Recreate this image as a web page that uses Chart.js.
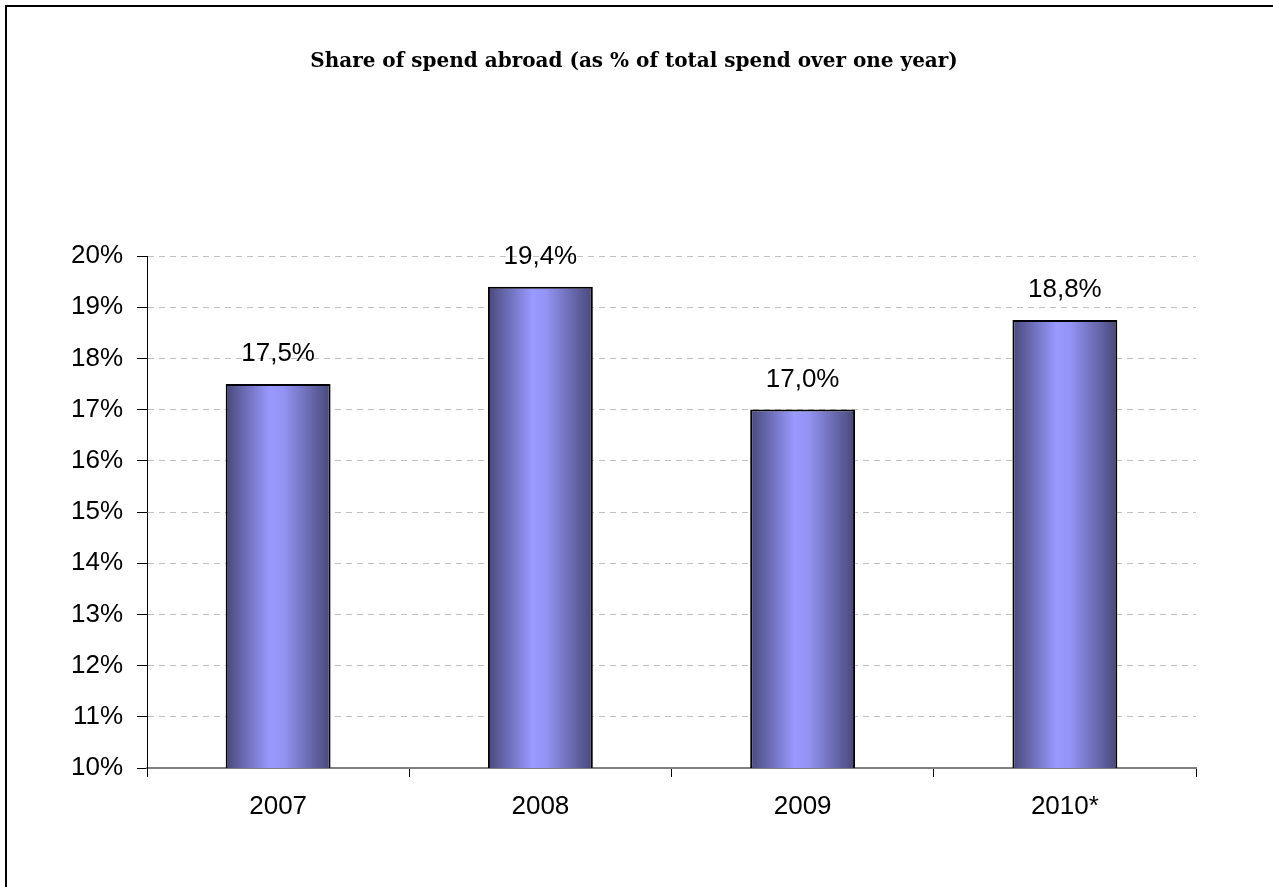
<!DOCTYPE html>
<html>
<head>
<meta charset="utf-8">
<script src="https://cdn.jsdelivr.net/npm/chart.js@4"></script>
<style>
    html, body { margin: 0; padding: 0; background: #fff; overflow: hidden; }
    #wrap { position: relative; width: 1273px; height: 887px; overflow: hidden; }
    #frame { position: absolute; left: 5px; top: 5px; width: 2000px; height: 2000px;
             border-left: 2px solid #000; border-top: 2px solid #000; pointer-events: none; }
</style>
</head>
<body>
<div id="wrap">
    <canvas id="spend-chart" width="1273" height="887"></canvas>
    <div id="frame"></div>
</div>
<script>
// Données du graphique
const chartTitle = "Share of spend abroad (as % of total spend over one year)";
const years = ["2007", "2008", "2009", "2010*"];
const shareAbroad = [17.5, 19.4, 17.0, 18.75];
const yTicks = [10, 11, 12, 13, 14, 15, 16, 17, 18, 19, 20];

document.addEventListener("DOMContentLoaded", function () {
    const canvas = document.getElementById("spend-chart");
    const sansFont = "'Liberation Sans', Arial, sans-serif";

    // Dégradé horizontal (sombre aux bords, clair au centre)
    function makeGradient(ctx, x, w) {
        const g = ctx.createLinearGradient(x - w / 2, 0, x + w / 2, 0);
        g.addColorStop(0, "#48487a");
        g.addColorStop(0.42, "#9999ff");
        g.addColorStop(0.55, "#9494f5");
        g.addColorStop(1, "#48487a");
        return g;
    }

    // Option scriptable -> chaque barre a ses propres options
    function barColor(context) {
        const el = context.element;
        if (el && Number.isFinite(el.x) && Number.isFinite(el.width)) {
            return makeGradient(context.chart.ctx, el.x, el.width);
        }
        return "#9999ff";
    }

    // Recalcule le dégradé juste avant le dessin
    const gradientPlugin = {
        id: "barGradient",
        beforeDatasetsDraw(chart) {
            chart.getDatasetMeta(0).data.forEach((bar) => {
                if (!Number.isFinite(bar.x) || !Number.isFinite(bar.width)) return;
                bar.options.backgroundColor = makeGradient(chart.ctx, bar.x, bar.width);
            });
        },
    };

    // Titre + étiquettes de valeur
    const labelsPlugin = {
        id: "labels",
        afterDatasetsDraw(chart) {
            const ctx = chart.ctx;
            ctx.save();
            ctx.fillStyle = "#000";
            ctx.textAlign = "center";
            ctx.textBaseline = "alphabetic";
            ctx.font = "26px " + sansFont;
            chart.getDatasetMeta(0).data.forEach((bar, i) => {
                const txt = shareAbroad[i].toFixed(1).replace(".", ",") + "%";
                ctx.fillText(txt, bar.x, bar.y - 23);
            });
            ctx.font = "bold 20px 'DejaVu Serif', serif";
            ctx.textBaseline = "middle";
            ctx.fillText(chartTitle, 634, 62);
            ctx.restore();
        },
    };

    new Chart(canvas, {
        type: "bar",
        data: {
            labels: years,
            datasets: [
                {
                    data: shareAbroad,
                    backgroundColor: barColor,
                    borderColor: "#000",
                    borderWidth: 2,
                    borderSkipped: false,
                    categoryPercentage: 1,
                    barPercentage: 0.4,
                },
            ],
        },
        options: {
            responsive: false,
            animation: false,
            layout: { padding: { top: 256, right: 77, left: 0, bottom: 0 } },
            plugins: {
                legend: { display: false },
                tooltip: { enabled: false },
                title: { display: false },
            },
            scales: {
                x: {
                    grid: {
                        offset: true,
                        drawOnChartArea: false,
                        drawTicks: true,
                        tickLength: 9,
                        tickColor: "#000",
                        tickWidth: 1,
                    },
                    border: { color: "#808080", width: 2 },
                    ticks: {
                        color: "#000",
                        padding: 14,
                        font: { family: sansFont, size: 26 },
                    },
                    afterFit(scale) { scale.height = 119; },
                },
                y: {
                    min: 10,
                    max: 20,
                    afterBuildTicks(scale) {
                        scale.ticks = yTicks.map((v) => ({ value: v }));
                    },
                    grid: {
                        color: "#c0c0c0",
                        lineWidth: 1,
                        tickColor: "#000",
                        tickLength: 10,
                        tickWidth: 1,
                    },
                    border: { color: "#000", width: 1, dash: [6, 5] },
                    ticks: {
                        color: "#000",
                        padding: 14,
                        font: { family: sansFont, size: 26 },
                        callback: (v) => v + "%",
                    },
                    afterFit(scale) { scale.width = 147; },
                },
            },
        },
        plugins: [gradientPlugin, labelsPlugin],
    });
});
</script>
</body>
</html>
